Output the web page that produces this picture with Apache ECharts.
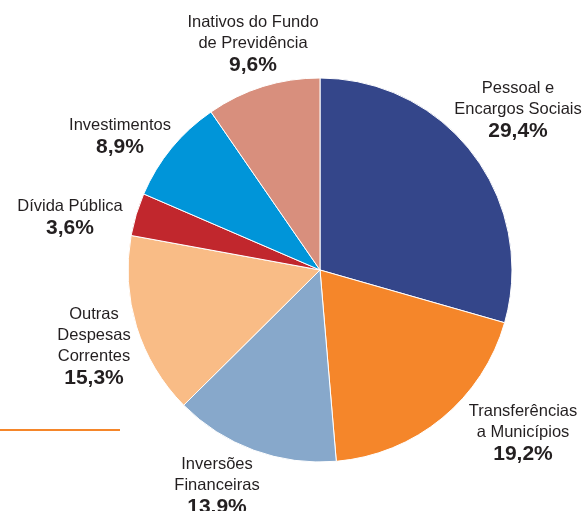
<!DOCTYPE html>
<html>
<head>
<meta charset="utf-8">
<script src="https://cdn.jsdelivr.net/npm/echarts@6/dist/echarts.min.js"></script>
<style>
  html, body { margin: 0; padding: 0; background: #fff; }
  #main { width: 587px; height: 511px; }
</style>
</head>
<body>
<div id="main"></div>
<script>
// categories, clockwise from 12 o'clock
var categories = [
  'Pessoal e\nEncargos Sociais',
  'Transferências\na Municípios',
  'Inversões\nFinanceiras',
  'Outras\nDespesas\nCorrentes',
  'Dívida Pública',
  'Investimentos',
  'Inativos do Fundo\nde Previdência'
];
var values = [29.4, 19.2, 13.9, 15.3, 3.6, 8.9, 9.6];
var valueLabels = ['29,4%', '19,2%', '13,9%', '15,3%', '3,6%', '8,9%', '9,6%'];
var colors = ['#34468a', '#f5862a', '#87a8cb', '#f9bc86', '#c1272d', '#0095d9', '#d88f7d'];

// label anchors (top centre of each text block)
var labelPos = [
  [518, 78], [523, 401], [217, 454], [94, 304], [70, 196], [120, 115], [253, 12]
];

var chart = echarts.init(document.getElementById('main'));

var pieData = [];
for (var i = 0; i < values.length; i++) {
  pieData.push({
    name: categories[i],
    value: values[i],
    itemStyle: { color: colors[i] }
  });
}

chart.setOption({
  animation: false,
  graphic: [{
    type: 'line',
    shape: { x1: 0, y1: 430, x2: 120, y2: 430 },
    style: { stroke: '#f5862a', lineWidth: 2 }
  }],
  series: [{
    type: 'pie',
    center: [320, 270],
    radius: 192,
    startAngle: 90,
    clockwise: true,
    data: pieData,
    avoidLabelOverlap: false,
    itemStyle: { borderColor: '#fff', borderWidth: 1 },
    labelLine: { show: false },
    label: {
      show: true,
      position: 'outside',
      overflow: 'none',
      formatter: function (p) {
        return '{n|' + p.name.split('\n').join('}\n{n|') + '}\n{p|' + valueLabels[p.dataIndex] + '}';
      },
      rich: {
        n: {
          fontFamily: '"Liberation Sans", Arial, sans-serif',
          fontSize: 16.5, lineHeight: 21, color: '#231f20', align: 'center'
        },
        p: {
          fontFamily: '"Liberation Sans", Arial, sans-serif',
          fontWeight: 'bold', fontSize: 21, lineHeight: 22, color: '#231f20', align: 'center'
        }
      }
    },
    labelLayout: function (params) {
      var pos = labelPos[params.dataIndex];
      return { x: pos[0], y: pos[1], align: 'center', verticalAlign: 'top' };
    }
  }]
});
</script>
</body>
</html>
